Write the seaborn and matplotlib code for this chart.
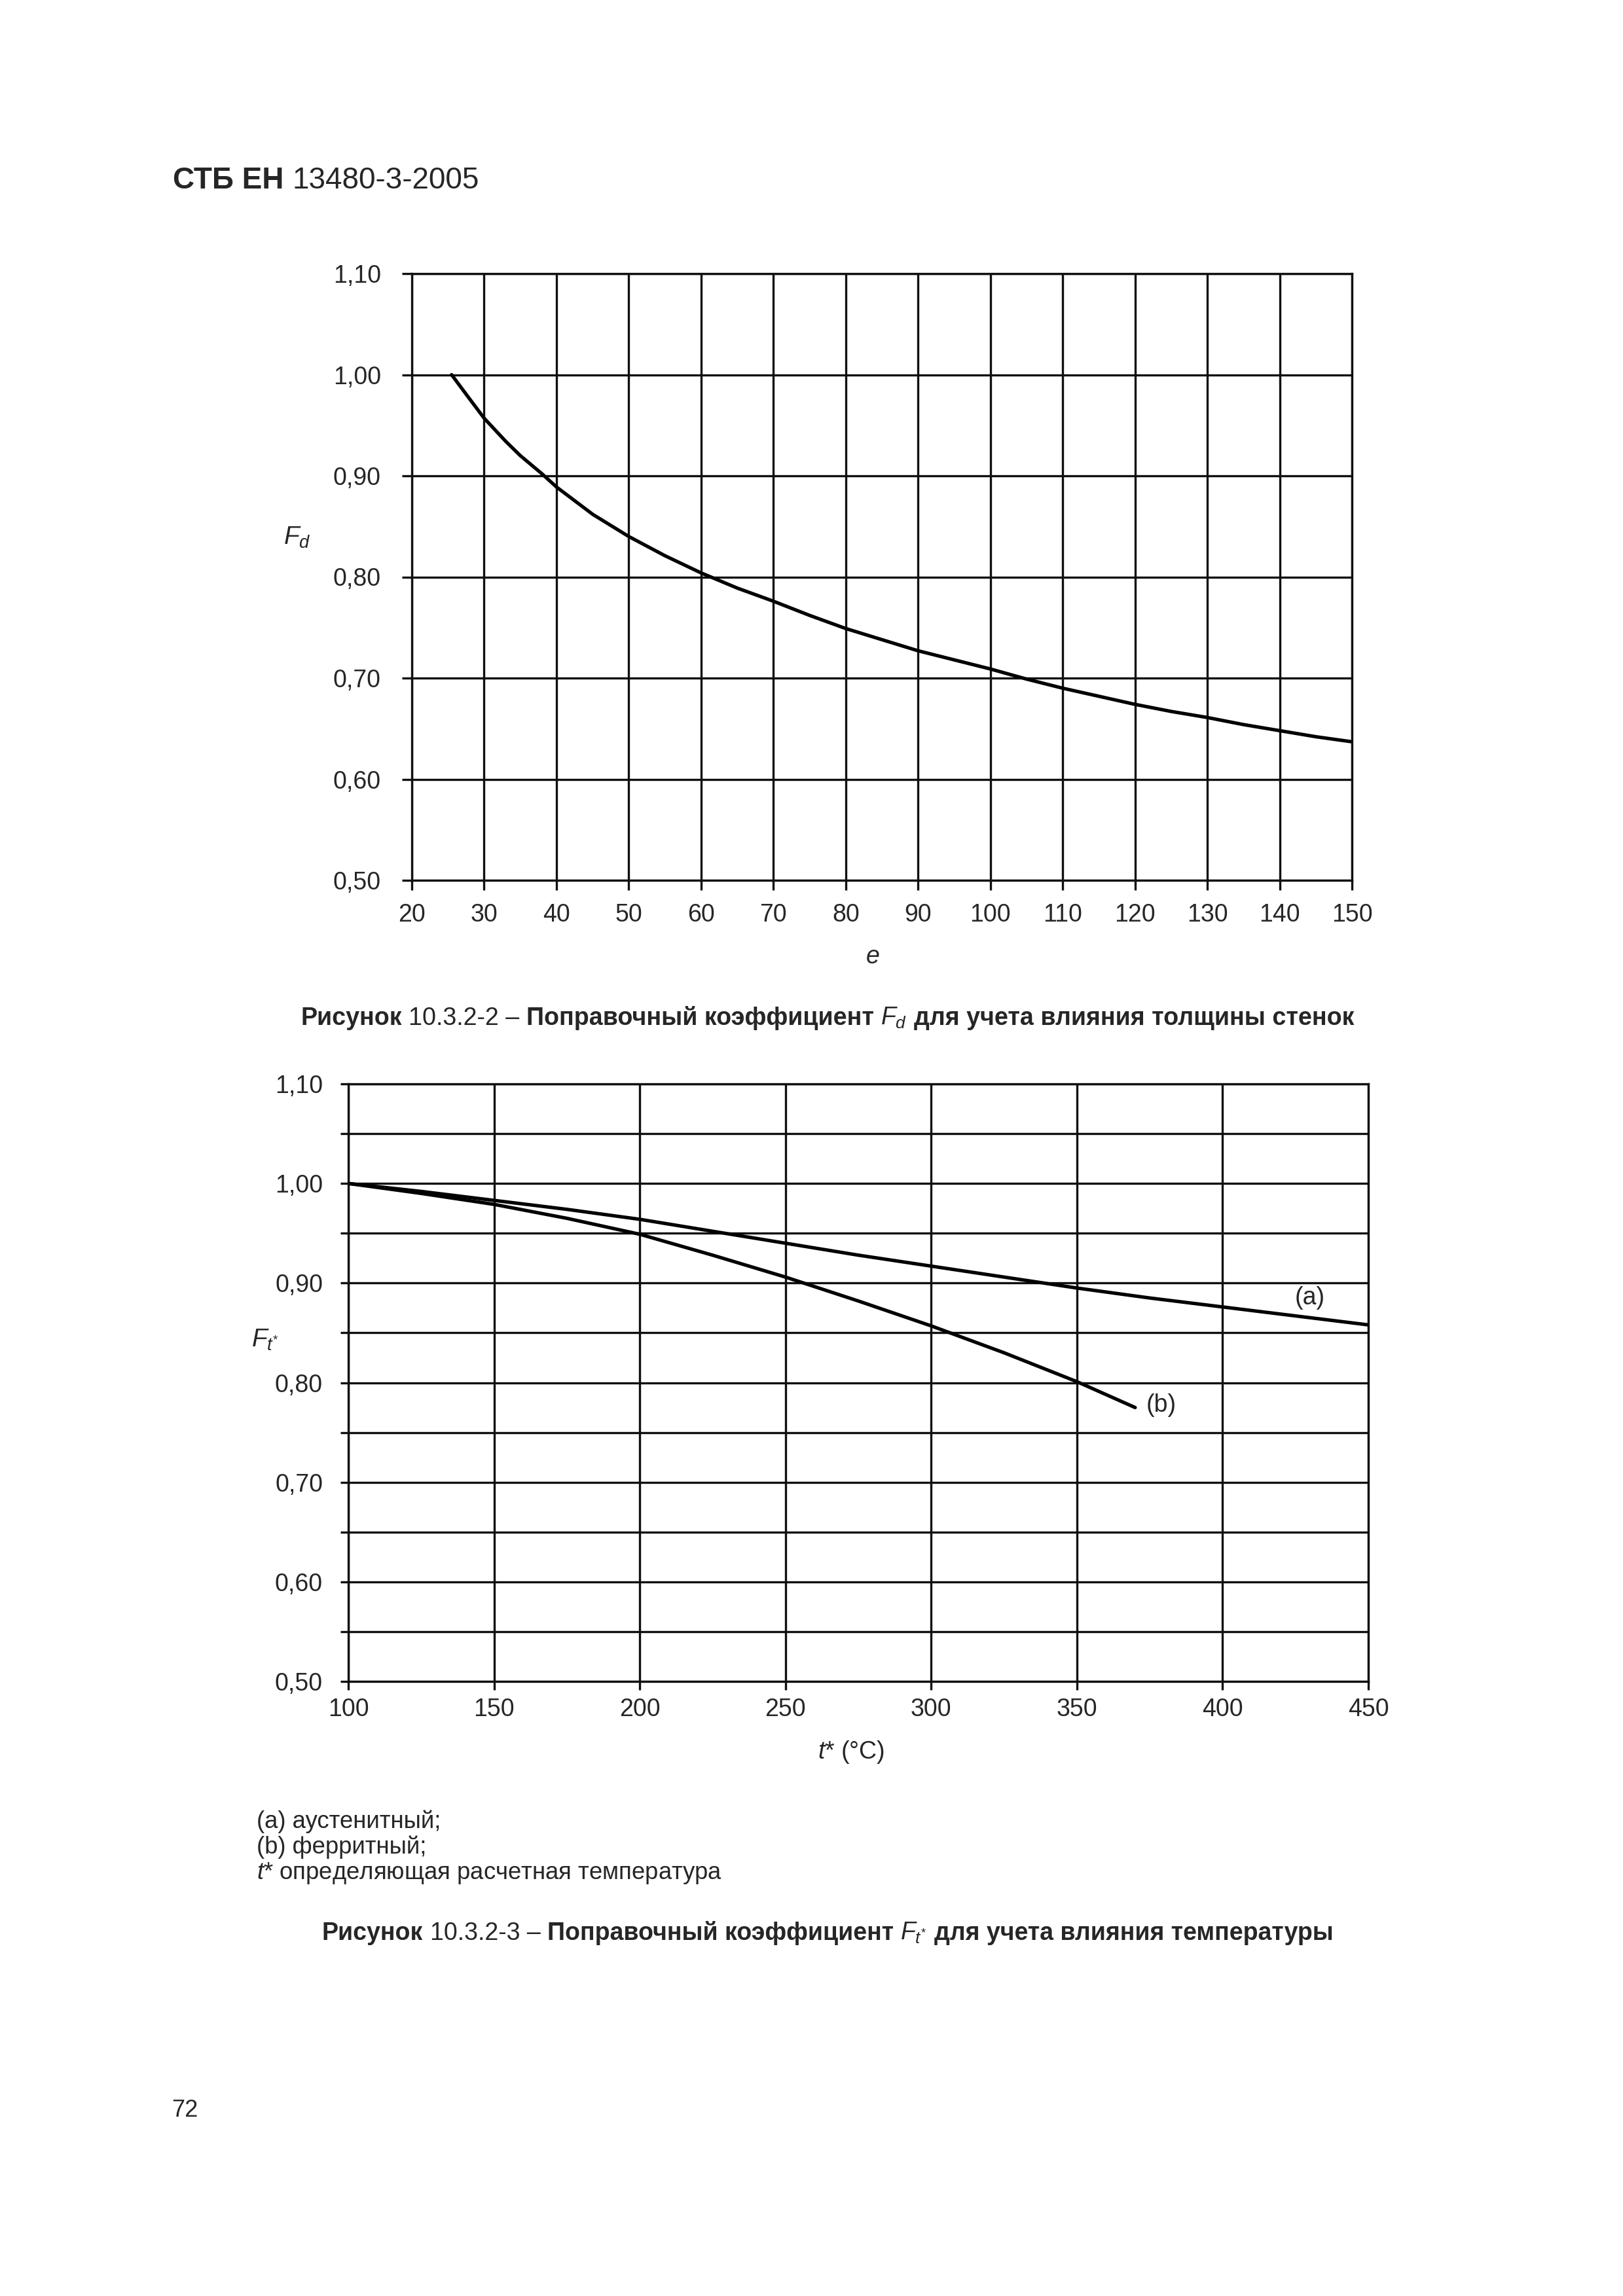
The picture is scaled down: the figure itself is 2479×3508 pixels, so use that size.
import matplotlib
matplotlib.use("Agg")
import matplotlib.pyplot as plt
import seaborn as sns
from matplotlib.ticker import MultipleLocator, FuncFormatter

# ---------------- data ----------------
e_vals = [25.5, 28, 30, 33, 35, 38, 40, 45, 50, 55, 60, 65, 70, 75, 80, 85, 90, 95, 100,
          105, 110, 115, 120, 125, 130, 135, 140, 145, 150]
fd_vals = [1.000, 0.976, 0.957, 0.934, 0.920, 0.902, 0.889, 0.862, 0.840, 0.821,
           0.804, 0.789, 0.776, 0.762, 0.749, 0.738, 0.727, 0.718, 0.709, 0.699,
           0.690, 0.682, 0.674, 0.667, 0.661, 0.654, 0.648, 0.642, 0.637]

t_a = [100, 125, 150, 175, 200, 225, 250, 275, 300, 325, 350, 375, 400, 425, 450]
f_a = [1.000, 0.992, 0.983, 0.974, 0.964, 0.952, 0.940, 0.928, 0.917, 0.906,
       0.895, 0.885, 0.876, 0.867, 0.858]

t_b = [100, 125, 150, 175, 200, 225, 250, 275, 300, 325, 350, 370]
f_b = [1.000, 0.990, 0.979, 0.965, 0.949, 0.928, 0.906, 0.882, 0.857, 0.830,
       0.801, 0.775]

top_xticks = list(range(20, 151, 10))
bottom_xticks = list(range(100, 451, 50))
y_ticks = [0.50, 0.60, 0.70, 0.80, 0.90, 1.00, 1.10]

header_bold = "СТБ ЕН"
header_regular = "13480-3-2005"
caption1 = ["Рисунок", "10.3.2-2 –", "Поправочный коэффициент", r"$F_d$",
            "для учета влияния толщины стенок"]
caption2 = ["Рисунок", "10.3.2-3 –", "Поправочный коэффициент", r"$F_{t^{*}}$",
            "для учета влияния температуры"]
notes = ["(a) аустенитный;", "(b) ферритный;", r"$t$* определяющая расчетная температура"]
label_a, label_b = "(a)", "(b)"
page_number = "72"

# ---------------- style ----------------
sns.set_style("white")
plt.rcParams["font.family"] = ["Liberation Sans", "DejaVu Sans"]
plt.rcParams["mathtext.fontset"] = "custom"
plt.rcParams["mathtext.it"] = "Liberation Sans:italic"
plt.rcParams["mathtext.rm"] = "Liberation Sans"
plt.rcParams["mathtext.bf"] = "Liberation Sans:bold"

W, H = 2479, 3508
fig = plt.figure(figsize=(W / 100, H / 100), dpi=100)
fig.patch.set_facecolor("white")

def box(l, t, r, b):
    return [l / W, 1 - b / H, (r - l) / W, (b - t) / H]

GRID = "#101010"
GLW = 2.4
CLW = 3.8
comma = FuncFormatter(lambda v, p: f"{v:.2f}".replace(".", ","))

ax1 = fig.add_axes(box(629, 418, 2065, 1345))
ax2 = fig.add_axes(box(532, 1656, 2090, 2569))

# ---- top chart ----
sns.lineplot(x=e_vals, y=fd_vals, ax=ax1, color="black", linewidth=CLW)
ax1.set_xlim(20, 150)
ax1.set_ylim(0.5, 1.1)
ax1.set_xticks(top_xticks)
ax1.set_yticks(y_ticks)
ax1.yaxis.set_major_formatter(comma)
ax1.grid(True, which="major", color=GRID, linewidth=GLW)
ax1.tick_params(axis="both", which="both", direction="out", length=11, width=GLW,
                color=GRID, labelsize=27, left=True, bottom=True)
ax1.tick_params(axis="y", pad=23)
ax1.tick_params(axis="x", pad=14)
ax1.set_xlabel("")
ax1.set_ylabel("")

# ---- bottom chart ----
sns.lineplot(x=t_a, y=f_a, ax=ax2, color="black", linewidth=CLW)
sns.lineplot(x=t_b, y=f_b, ax=ax2, color="black", linewidth=CLW)
ax2.set_xlim(100, 450)
ax2.set_ylim(0.5, 1.1)
ax2.set_xticks(bottom_xticks)
ax2.set_yticks(y_ticks)
ax2.yaxis.set_minor_locator(MultipleLocator(0.05))
ax2.yaxis.set_major_formatter(comma)
ax2.grid(True, which="major", color=GRID, linewidth=GLW)
ax2.grid(True, which="minor", axis="y", color=GRID, linewidth=GLW)
ax2.tick_params(axis="both", which="both", direction="out", length=9, width=GLW,
                color=GRID, labelsize=27, left=True, bottom=True)
ax2.tick_params(axis="y", pad=19)
ax2.tick_params(axis="x", pad=9)
ax2.set_xlabel("")
ax2.set_ylabel("")
ax2.text(430, 0.885, label_a, fontsize=27, ha="center", va="center")
ax2.text(379, 0.777, label_b, fontsize=27, ha="center", va="center")

for ax in (ax1, ax2):
    for sp in ax.spines.values():
        sp.set_visible(True)
        sp.set_color(GRID)
        sp.set_linewidth(GLW)

# axis labels
fig.text(454 / W, 1 - 821 / H, r"$F_d$", fontsize=28, ha="center", va="center")
fig.text(1333 / W, 1 - 1462 / H, "e", fontsize=27, fontstyle="italic",
         ha="center", va="center")
fig.text(405 / W, 1 - 2047 / H, r"$F_{t^{*}}$", fontsize=28, ha="center", va="center")
fig.text(1300 / W, 1 - 2677 / H, r"$t$* (°C)", fontsize=27, ha="center", va="center")

# ---------------- rich text helpers ----------------
fig.canvas.draw()
renderer = fig.canvas.get_renderer()

def rich(parts, x0, baseline, x1=None, fontsize=None, gap_em=0.278):
    """parts: list of (text, kwargs, space_before)."""
    base = fontsize if fontsize else 20.0
    objs = []
    for s, kw, sp in parts:
        t = fig.text(0, 1 - baseline / H, s, fontsize=base, ha="left",
                     va="baseline", **kw)
        objs.append((t, sp))
    if x1 is not None and fontsize is None:
        ws = [t.get_window_extent(renderer).width for t, _ in objs]
        total = sum(ws) + sum(gap_em * base * 100 / 72 for _, sp in objs if sp)
        base = base * (x1 - x0) / total
        for t, _ in objs:
            t.set_fontsize(base)
    ws = [t.get_window_extent(renderer).width for t, _ in objs]
    x = x0
    for (t, sp), w in zip(objs, ws):
        if sp:
            x += gap_em * base * 100 / 72
        t.set_x(x / W)
        x += w
    return base

B = {"fontweight": "bold"}
R = {}

# header
rich([(header_bold, B, False), (header_regular, R, True)], 264, 288, x1=732)

# captions
def caption(parts, x0, x1, baseline):
    rich([(parts[0], B, False), (parts[1], R, True), (parts[2], B, True),
          (parts[3], R, True), (parts[4], B, True)], x0, baseline, x1=x1)

caption(caption1, 459, 2065, 1566)
caption(caption2, 492, 2036, 2964)

# notes
fs = rich([(notes[2], R, False)], 392, 2871, x1=1103)
rich([(notes[0], R, False)], 392, 2793, fontsize=fs)
rich([(notes[1], R, False)], 392, 2832, fontsize=fs)

# page number
fig.text(282 / W, 1 - 3225 / H, page_number, fontsize=26, ha="center", va="center")

fig.savefig("out.png", dpi=100, facecolor="white")
